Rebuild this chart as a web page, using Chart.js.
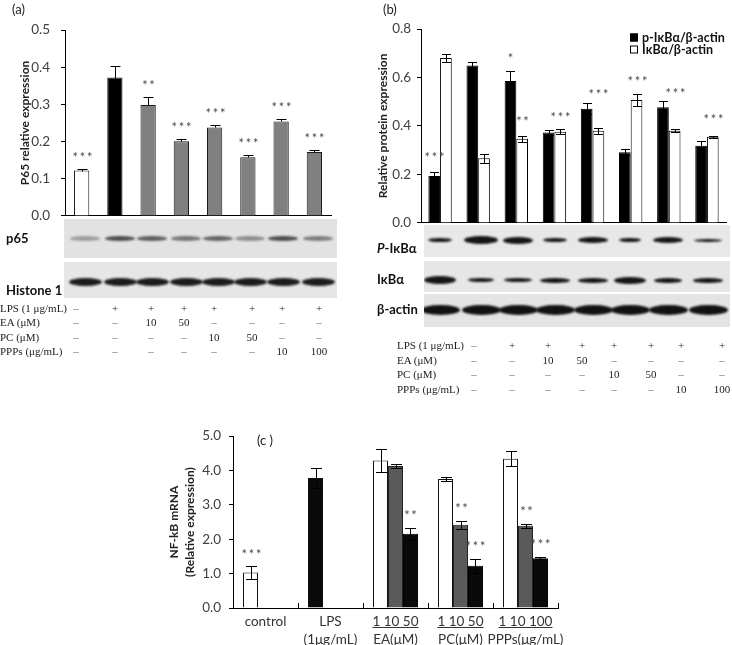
<!DOCTYPE html>
<html>
<head>
<meta charset="utf-8">
<script src="https://cdn.jsdelivr.net/npm/chart.js@4.4.1/dist/chart.umd.min.js"></script>
<style>
body { margin: 0; background: #fff; }
#fig { position: relative; width: 732px; height: 645px; overflow: hidden; font-family: Lato, sans-serif; }
canvas { position: absolute; }
.blot { position: absolute; overflow: hidden; }
.band { position: absolute; border-radius: 50%; filter: blur(1px); }
.lbl { position: absolute; font-weight: bold; font-size: 13px; color: #111; transform: translateY(-50%); white-space: nowrap; }
.panel { position: absolute; font-size: 13px; color: #222; transform: translateY(-50%); }
.cell { position: absolute; font-family: 'Liberation Serif', serif; font-size: 11px; color: #222; transform: translate(-50%, -50%); white-space: nowrap; }
.rowlbl { position: absolute; font-family: 'Liberation Serif', serif; font-size: 11px; color: #222; transform: translateY(-50%); white-space: nowrap; }
.leg { position: absolute; font-weight: bold; font-size: 12.5px; color: #111; transform: translateY(-50%); white-space: nowrap; }
.sq { display: inline-block; width: 8px; height: 8px; border: 1px solid #000; margin-right: 4px; box-sizing: border-box; }
</style>
</head>
<body>
<div id="fig">
  <canvas id="chartA" width="345" height="235" style="left:0;top:0"></canvas>
  <canvas id="chartB" width="357" height="237" style="left:375px;top:0"></canvas>
  <canvas id="chartC" width="420" height="225" style="left:150px;top:420px"></canvas>
</div>
<script>
// ---- panel (a): nuclear p65 ----
const aLabels = ['control', 'LPS', 'EA 10', 'EA 50', 'PC 10', 'PC 50', 'PPPs 10', 'PPPs 100'];
const aValues = [0.122, 0.372, 0.298, 0.201, 0.238, 0.158, 0.254, 0.172];
const aErrors = [0.005, 0.030, 0.022, 0.006, 0.006, 0.006, 0.007, 0.006];
const aStars = ['***', '', '**', '***', '***', '***', '***', '***'];

// ---- panel (b): p-IkBa and IkBa ----
const bLabels = aLabels;
const bPhospho = [0.193, 0.649, 0.585, 0.373, 0.471, 0.292, 0.477, 0.318];
const bPhosphoErr = [0.017, 0.015, 0.040, 0.012, 0.022, 0.013, 0.024, 0.018];
const bTotal = [0.680, 0.267, 0.347, 0.376, 0.380, 0.507, 0.380, 0.355];
const bTotalErr = [0.015, 0.018, 0.012, 0.010, 0.013, 0.025, 0.006, 0.005];
const bPhosphoStars = ['***', '', '*', '', '', '', '', ''];
const bTotalStars = ['', '', '**', '***', '***', '***', '***', '***'];
const bPhosphoStarLevel = [0.282, null, 0.690, null, null, null, null, null];
const bTotalStarLevel = [null, null, 0.431, 0.445, 0.541, 0.594, 0.545, 0.436];

// ---- panel (c): NF-kB mRNA ----
const cLabels = [['control'], ['LPS', '(1μg/mL)'], ['1 10 50', 'EA(μM)'], ['1 10 50', 'PC(μM)'], ['1 10 100', 'PPPs(μg/mL)']];
const cLow = [1.03, 3.78, 4.29, 3.75, 4.34];
const cLowErr = [0.18, 0.30, 0.33, 0.05, 0.22];
const cMid = [null, null, 4.13, 2.42, 2.39];
const cMidErr = [0, 0, 0.05, 0.12, 0.05];
const cHigh = [null, null, 2.16, 1.23, 1.45];
const cHighErr = [0, 0, 0.17, 0.20, 0.03];
const cLowStars = ['***', '', '', '', ''];
const cMidStars = ['', '', '', '**', '**'];
const cHighStars = ['', '', '**', '***', '***'];

// ---- tables under blots ----
const tableRows = ['LPS (1 μg/mL)', 'EA (μM)', 'PC (μM)', 'PPPs (μg/mL)'];
const tableCells = [
    ['–', '+', '+', '+', '+', '+', '+', '+'],
    ['–', '–', '10', '50', '–', '–', '–', '–'],
    ['–', '–', '–', '–', '10', '50', '–', '–'],
    ['–', '–', '–', '–', '–', '–', '10', '100']
];

const tickFont = { family: 'Lato', size: 13.5 };
const titleFont = { family: 'Lato', size: 12, weight: 'bold' };

// error bars, significance stars and inner category ticks
const extrasPlugin = {
    id: 'extras',
    afterDatasetsDraw(chart, args, opts) {
        const ctx = chart.ctx;
        const y = chart.scales.y;
        ctx.save();
        ctx.strokeStyle = '#000';
        ctx.lineWidth = 1;
        chart.data.datasets.forEach((ds, di) => {
            const meta = chart.getDatasetMeta(di);
            meta.data.forEach((bar, i) => {
                const v = ds.data[i];
                if (v == null) return;
                const e = ds.errors ? ds.errors[i] : 0;
                const x = Math.round(bar.x) + 0.5;
                if (e) {
                    const top = Math.round(y.getPixelForValue(v + e)) + 0.5;
                    const bot = Math.round(y.getPixelForValue(opts.upOnly ? v : v - e)) + 0.5;
                    const c = opts.cap / 2;
                    ctx.strokeStyle = '#000';
                    ctx.beginPath();
                    ctx.moveTo(x, top); ctx.lineTo(x, bot);
                    ctx.moveTo(x - c, top); ctx.lineTo(x + c, top);
                    if (!opts.upOnly) { ctx.moveTo(x - c, bot); ctx.lineTo(x + c, bot); }
                    ctx.stroke();
                }
                const s = ds.stars ? ds.stars[i] : '';
                if (s) {
                    let sy;
                    if (ds.starLevel && ds.starLevel[i] != null) sy = y.getPixelForValue(ds.starLevel[i]);
                    else sy = y.getPixelForValue(v + e) - opts.starGap;
                    ctx.fillStyle = '#4a4a4a';
                    ctx.font = '13px Lato';
                    ctx.textAlign = 'center';
                    ctx.textBaseline = 'middle';
                    ctx.fillText(s.split('').join('\u2009'), x, sy + 3);
                }
            });
        });
        if (opts.innerTicks) {
            const xs = chart.scales.x;
            const n = chart.data.labels.length;
            const half = (xs.getPixelForValue(1) - xs.getPixelForValue(0)) / 2;
            ctx.strokeStyle = '#000';
            ctx.beginPath();
            for (let i = 0; i < n; i++) {
                const px = Math.round(xs.getPixelForValue(i) + half) + 0.5;
                ctx.moveTo(px, xs.top); ctx.lineTo(px, xs.top - 5);
            }
            ctx.stroke();
        }
        if (opts.underline) {
            const xs = chart.scales.x;
            ctx.font = '13.5px Lato';
            ctx.strokeStyle = '#333';
            opts.underline.forEach(i => {
                const w = ctx.measureText(chart.data.labels[i][0]).width;
                const px = xs.getPixelForValue(i);
                const uy = Math.round(xs.top + 19) + 0.5;
                ctx.beginPath();
                ctx.moveTo(px - w / 2, uy); ctx.lineTo(px + w / 2, uy);
                ctx.stroke();
            });
        }
        ctx.restore();
    }
};

function yScale(max, step, width, title, titlePad, tickPad) {
    return {
        min: 0, max: max,
        ticks: { stepSize: step, callback: v => v.toFixed(1), font: tickFont, color: '#404040', padding: tickPad },
        grid: { display: true, drawOnChartArea: false, drawTicks: true, tickLength: 4, color: '#000' },
        border: { color: '#000', width: 1 },
        title: { display: true, text: title, font: titleFont, color: '#222', padding: { top: titlePad, bottom: 0 } },
        afterFit: s => { s.width = width; }
    };
}

function baseOptions(padding, plugin) {
    return {
        responsive: false,
        animation: false,
        devicePixelRatio: 1,
        layout: { padding: padding },
        plugins: { legend: { display: false }, tooltip: { enabled: false }, extras: plugin }
    };
}

// panel (a)
const optsA = baseOptions({ top: 30, right: 14, left: 0, bottom: 0 }, { upOnly: true, cap: 10, starGap: 14 });
optsA.scales = {
    x: { grid: { display: false, drawTicks: false }, border: { color: '#000' }, ticks: { display: false }, afterFit: s => { s.height = 19; } },
    y: yScale(0.5, 0.1, 65, 'P65 relative expression', 18, 11)
};
new Chart(document.getElementById('chartA'), {
    type: 'bar',
    data: {
        labels: aLabels,
        datasets: [{
            data: aValues, errors: aErrors, stars: aStars,
            backgroundColor: ['#ffffff', '#000000', '#808080', '#808080', '#808080', '#808080', '#808080', '#808080'],
            borderColor: '#1a1a1a', borderWidth: 1,
            categoryPercentage: 0.46, barPercentage: 1
        }]
    },
    options: optsA,
    plugins: [extrasPlugin]
});

// panel (b)
const optsB = baseOptions({ top: 29, right: 6, left: 0, bottom: 0 }, { upOnly: false, cap: 9, starGap: 14 });
optsB.scales = {
    x: { grid: { display: false, drawTicks: false }, border: { color: '#000' }, ticks: { display: false }, afterFit: s => { s.height = 14; } },
    y: yScale(0.8, 0.2, 46, 'Relative protein expression', 1, 6)
};
new Chart(document.getElementById('chartB'), {
    type: 'bar',
    data: {
        labels: bLabels,
        datasets: [
            { label: 'p-IκBα/β-actin', data: bPhospho, errors: bPhosphoErr, stars: bPhosphoStars, starLevel: bPhosphoStarLevel,
              backgroundColor: '#000000', borderColor: '#000', borderWidth: 1, categoryPercentage: 0.613, barPercentage: 1 },
            { label: 'IκBα/β-actin', data: bTotal, errors: bTotalErr, stars: bTotalStars, starLevel: bTotalStarLevel,
              backgroundColor: '#ffffff', borderColor: '#000', borderWidth: 1, categoryPercentage: 0.613, barPercentage: 1 }
        ]
    },
    options: optsB,
    plugins: [extrasPlugin]
});

// panel (c)
const optsC = baseOptions({ top: 16, right: 12, left: 0, bottom: 0 }, { upOnly: false, cap: 11, starGap: 15, innerTicks: true, underline: [2, 3, 4] });
const yC = yScale(5, 1, 83, ['NF-kB mRNA', '(Relative expression)'], 16, 8);
yC.title.font = { family: 'Lato', size: 12, weight: 'bold', lineHeight: 1.34 };
optsC.scales = {
    x: {
        grid: { display: false, drawTicks: false }, border: { color: '#000' },
        ticks: { font: { family: 'Lato', size: 13.5, lineHeight: 1.33 }, color: '#333', padding: 5, maxRotation: 0, autoSkip: false },
        afterFit: s => { s.height = 37; }
    },
    y: yC
};
new Chart(document.getElementById('chartC'), {
    type: 'bar',
    data: {
        labels: cLabels,
        datasets: [
            { data: cLow, errors: cLowErr, stars: cLowStars, backgroundColor: ['#ffffff', '#0a0a0a', '#ffffff', '#ffffff', '#ffffff'],
              borderColor: '#111', borderWidth: 1, categoryPercentage: 0.692, barPercentage: 1 },
            { data: cMid, errors: cMidErr, stars: cMidStars, backgroundColor: '#5a5a5a',
              borderColor: '#222', borderWidth: 1, categoryPercentage: 0.692, barPercentage: 1 },
            { data: cHigh, errors: cHighErr, stars: cHighStars, backgroundColor: '#0a0a0a',
              borderColor: '#000', borderWidth: 1, categoryPercentage: 0.692, barPercentage: 1 }
        ]
    },
    options: optsC,
    plugins: [extrasPlugin]
});

// ---- html parts: blots, labels, tables ----
const fig = document.getElementById('fig');
function add(cls, x, y, html, style) {
    const d = document.createElement('div');
    d.className = cls;
    d.style.left = x + 'px';
    d.style.top = y + 'px';
    d.innerHTML = html;
    if (style) Object.assign(d.style, style);
    fig.appendChild(d);
    return d;
}
function blot(x, y, w, h, bg, lanes, cy, bw, bh, colors) {
    const b = add('blot', x, y, '', { width: w + 'px', height: h + 'px', background: bg });
    lanes.forEach((lx, i) => {
        const d = document.createElement('div');
        d.className = 'band';
        const ww = Array.isArray(bw) ? bw[i] : bw;
        const hh = Array.isArray(bh) ? bh[i] : bh;
        d.style.left = (lx - x - ww / 2) + 'px';
        d.style.top = (cy - hh / 2) + 'px';
        d.style.width = ww + 'px';
        d.style.height = hh + 'px';
        d.style.background = Array.isArray(colors) ? colors[i] : colors;
        b.appendChild(d);
    });
}

const lanesA = [85, 120, 152, 186, 218, 250, 283, 318];
blot(64, 219, 273, 39, '#e2e2e2', lanesA, 19, 30, 5,
     ['#9c9c9c', '#4c4c4c', '#5c5c5c', '#747474', '#646464', '#8c8c8c', '#4a4a4a', '#7c7c7c']);
blot(64, 262, 273, 36, '#e6e6e6', lanesA, 19.5, 33, 8, '#1c1c1c');

const lanesB = [440, 481, 518, 555, 593, 630, 668, 708];
blot(424, 225, 306, 32, '#e8e8e8', lanesB, 15, [24, 34, 30, 24, 30, 22, 30, 28], [4, 8, 7, 4, 6, 4, 6, 3], '#151515');
blot(424, 261, 306, 31, '#e6e6e6', lanesB, 19, [32, 26, 28, 30, 30, 32, 28, 30], [8, 4, 4, 5, 5, 7, 5, 5], '#151515');
blot(424, 294, 306, 33, '#e4e4e4', lanesB, 16, 39, 10, '#111');

add('lbl', 6, 238, 'p65');
add('lbl', 6, 290, 'Histone 1');
add('lbl', 377, 248, '<i>P</i>-IκBα');
add('lbl', 377, 279, 'IκBα');
add('lbl', 377, 309, 'β-actin');

add('panel', 12, 9, '(a)');
add('panel', 383, 9, '(b)');
add('panel', 257, 440, '(c )');

add('leg', 630, 37, '<span class="sq" style="background:#000"></span>p-IκBα/β-actin');
add('leg', 630, 49, '<span class="sq" style="background:#fff"></span>IκBα/β-actin');

function table(lx, cols, rows) {
    tableRows.forEach((r, ri) => {
        add('rowlbl', lx, rows[ri], r);
        tableCells[ri].forEach((c, ci) => {
            add('cell', cols[ci], rows[ri], c, c === '–' ? { color: '#666' } : null);
        });
    });
}
table(0, [76, 115, 151, 184, 214, 252, 282, 319], [307.5, 322, 337, 351]);
table(397, [474, 512, 548, 582, 614, 651, 681, 722], [345, 359.5, 374, 388.5]);
</script>
</body>
</html>
